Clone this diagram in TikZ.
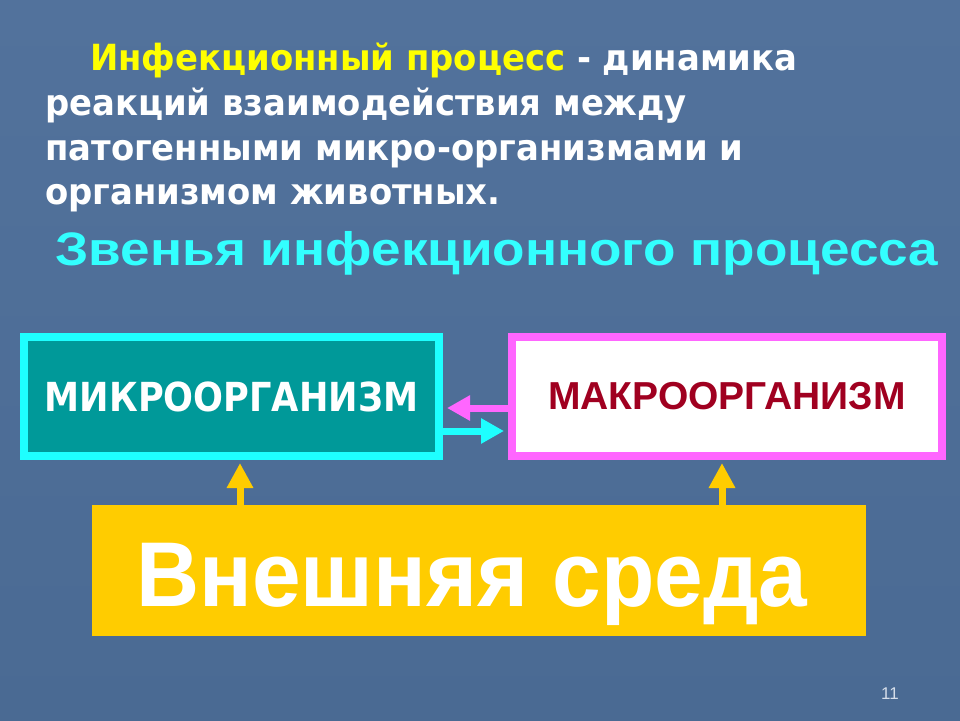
\documentclass[tikz,border=0pt]{standalone}
\usepackage{fontspec}
\setmainfont{Liberation Sans}
\newfontfamily\tah[FakeStretch=0.94]{DejaVu Sans}
\newfontfamily\tahb[FakeStretch=0.88]{DejaVu Sans}
\newfontfamily\headf[FakeStretch=1.13]{Liberation Sans}
\newfontfamily\envf[FakeStretch=0.95]{Liberation Sans}
\usetikzlibrary{arrows.meta}
\definecolor{bgtop}{HTML}{52729C}
\definecolor{bgbot}{HTML}{4A6A93}
\definecolor{tealfill}{HTML}{009999}
\definecolor{cyanb}{HTML}{1EFFFF}
\definecolor{magb}{HTML}{FF66FF}
\definecolor{darkred}{HTML}{A00020}
\definecolor{ybox}{HTML}{FFCC00}
\definecolor{headc}{HTML}{33FFFF}
\definecolor{ytext}{HTML}{FFFF00}
\definecolor{pgnum}{HTML}{D6DEEA}
\tikzset{
  toptext/.style={anchor=base west, inner sep=0pt, text=white, font=\tah\bfseries\fontsize{36}{36}\selectfont},
  boxnode/.style={rectangle, line width=8pt, inner sep=0pt, minimum height=119pt},
  fatarrow/.style={line width=7pt, -{Triangle[length=23pt,width=24pt]}},
  yarrow/.style={draw=ybox, line width=7pt, -{Triangle[length=25pt,width=25pt]}}
}
\begin{document}
\begin{tikzpicture}[x=1pt,y=-1pt]
\useasboundingbox (0,0) rectangle (960,720);
\shade[top color=bgtop, bottom color=bgbot] (0,0) rectangle (960,720);
% top text
\node[toptext] (l1) at (90,70) {\textcolor{ytext}{Инфекционный процесс} - динамика};
\node[toptext] (l2) at (45,115) {реакций взаимодействия между};
\node[toptext] (l3) at (45,160) {патогенными микро-организмами и};
\node[toptext] (l4) at (45,204) {организмом животных.};
% heading
\node[anchor=base, inner sep=0pt, text=headc, font=\headf\bfseries\fontsize{47}{47}\selectfont] (head) at (497,265) {Звенья инфекционного процесса};
% boxes
\node[boxnode, draw=cyanb, fill=tealfill, minimum width=415pt, text=white, font=\tahb\bfseries\fontsize{40}{40}\selectfont] (micro) at (231.5,396.5) {МИКРООРГАНИЗМ};
\node[boxnode, draw=magb, fill=white, minimum width=430pt, text=darkred, font=\bfseries\fontsize{39}{39}\selectfont] (macro) at (727,396.5) {МАКРООРГАНИЗМ};
\node[rectangle, fill=ybox, inner sep=0pt, minimum width=774pt, minimum height=131pt] (env) at (479,570.5) {};
\node[anchor=base, inner sep=0pt, text=white, font=\envf\bfseries\fontsize{92}{92}\selectfont] (envt) at (472,606) {Внешняя среда};
% arrows between boxes
\draw[fatarrow, draw=magb] ([yshift=-11.5pt]macro.west) -- ([yshift=-11.5pt,xshift=4pt]micro.east);
\draw[fatarrow, draw=cyanb] ([yshift=-34.5pt]micro.east) -- ([yshift=-34.5pt,xshift=-4pt]macro.west);
% arrows from environment
\coordinate (ya) at (240,505);
\coordinate (yb) at (722,505);
\draw[yarrow] (ya) -- ([yshift=-3pt]ya |- micro.south);
\draw[yarrow] (yb) -- ([yshift=-3pt]yb |- macro.south);
% page number
\node[anchor=base, inner sep=0pt, text=pgnum, font=\fontsize{17}{17}\selectfont] (pg) at (890,699) {11};
\end{tikzpicture}
\end{document}
